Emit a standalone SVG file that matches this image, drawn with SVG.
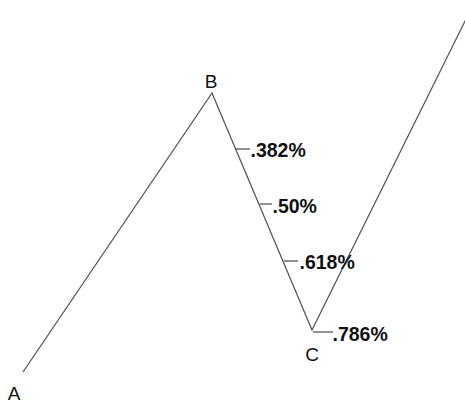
<svg xmlns="http://www.w3.org/2000/svg" width="465" height="403" viewBox="0 0 465 403">
<style>
.ln{stroke:#555;stroke-width:1.3;fill:none}
.lbl{font-family:"Liberation Sans",Arial,sans-serif;font-size:19px;fill:#111;text-anchor:middle}
.pct{font-family:"Liberation Sans",Arial,sans-serif;font-weight:bold;font-size:19.5px;fill:#111}
</style>
<rect width="465" height="403" fill="#fff"/>
<g id="connectors">
<polyline class="ln" points="23,372 212,93 312,330 470,11"/>
<line class="ln" x1="236" y1="149" x2="250" y2="149"/>
<line class="ln" x1="260" y1="204" x2="272" y2="204"/>
<line class="ln" x1="284" y1="261" x2="298" y2="261"/>
<line class="ln" x1="313" y1="332" x2="333" y2="332"/>
</g>
<g id="A"><text class="lbl" x="14" y="400">A</text></g>
<g id="B"><text class="lbl" x="211" y="88">B</text></g>
<g id="C"><text class="lbl" x="312" y="361">C</text></g>
<g id="f382"><text class="pct" x="250.5" y="157">.382%</text></g>
<g id="f50"><text class="pct" x="272.5" y="213">.50%</text></g>
<g id="f618"><text class="pct" x="299.5" y="269">.618%</text></g>
<g id="f786"><text class="pct" x="332.5" y="341">.786%</text></g>
</svg>
